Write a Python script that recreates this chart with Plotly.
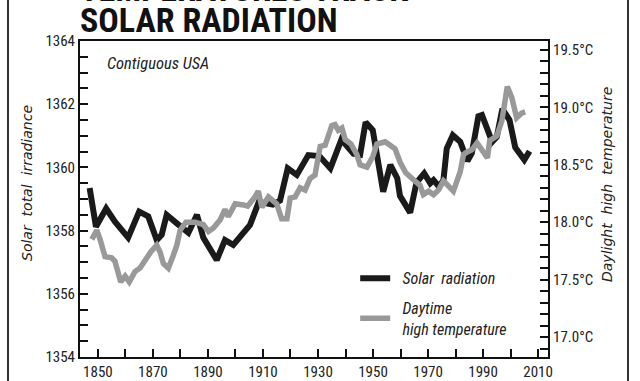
import plotly.graph_objects as go

# Solar total irradiance (left axis, W/m^2)
solar_years = [1847, 1849.3, 1853, 1856.2, 1861, 1865, 1868.3, 1871.4, 1873.2, 1875,
               1878.7, 1882.9, 1886, 1888.3, 1893.2, 1896.2, 1899.2, 1905.3, 1908.5, 1913.6,
               1916.2, 1919, 1922.3, 1926.5, 1930.5, 1934.5, 1938.5, 1942.9, 1945.3, 1947.3,
               1949.9, 1953.7, 1956.3, 1958.8, 1959.8, 1963.5, 1965.8, 1968.6, 1970.8, 1972,
               1974, 1975.6, 1976.8, 1979, 1981.7, 1984.3, 1985.9, 1988.3, 1989.6, 1993.3,
               1995, 1997, 1999.6, 2001.7, 2005, 2006.9]
solar_values = [1359.35, 1358.12, 1358.70, 1358.28, 1357.78, 1358.60, 1358.45, 1357.70, 1357.87, 1358.50,
                1358.23, 1357.93, 1358.50, 1357.78, 1357.07, 1357.70, 1357.55, 1358.18, 1358.91, 1358.82,
                1358.95, 1359.97, 1359.76, 1360.39, 1360.36, 1359.97, 1360.88, 1360.43, 1360.40, 1361.43,
                1361.18, 1359.23, 1360.08, 1359.66, 1359.10, 1358.57, 1359.52, 1359.81, 1359.50, 1359.60,
                1359.39, 1359.60, 1360.60, 1361.02, 1360.81, 1360.20, 1360.45, 1361.62, 1361.66, 1360.81,
                1360.97, 1361.85, 1361.50, 1360.63, 1360.24, 1360.51]

# Daytime high temperature (right axis, deg C)
temp_years = [1847.8, 1849.6, 1850.8, 1852.6, 1855.0, 1856.2, 1858.3, 1859.9, 1861.4, 1863.5,
              1865.3, 1867.7, 1869.2, 1871.4, 1872.6, 1873.8, 1875.6, 1877.4, 1878.7, 1879.9,
              1882.0, 1885.3, 1888.3, 1890.2, 1892.0, 1894.4, 1896.2, 1897.4, 1899.9, 1902.9,
              1904.4, 1907.1, 1908.3, 1909.6, 1912.0, 1915.0, 1916.8, 1918.7, 1919.9, 1921.7,
              1923.5, 1925.3, 1927.1, 1928.9, 1929.8, 1930.8, 1932.6, 1933.4, 1935.0, 1936.2,
              1937.4, 1938.7, 1939.9, 1942.0, 1944.1, 1945.3, 1947.8, 1949.9, 1951.4, 1954.4,
              1956.0, 1958.0, 1959.9, 1961.9, 1964.7, 1967.1, 1968.3, 1970.2, 1972.0, 1973.8,
              1975.6, 1976.8, 1979.2, 1981.7, 1982.9, 1984.1, 1985.9, 1987.8, 1989.6, 1991.6,
              1992.4, 1995.0, 1996.8, 1998.8, 2000.4, 2002.2, 2004.0, 2005.3]
temp_values = [17.85, 17.93, 17.85, 17.70, 17.69, 17.66, 17.48, 17.53, 17.48, 17.57,
               17.60, 17.70, 17.74, 17.80, 17.74, 17.64, 17.60, 17.71, 17.80, 17.93,
               18.00, 18.00, 17.98, 17.92, 17.95, 18.02, 18.11, 18.05, 18.16, 18.15,
               18.14, 18.22, 18.27, 18.13, 18.22, 18.16, 18.03, 18.03, 18.21, 18.22,
               18.30, 18.28, 18.38, 18.41, 18.54, 18.66, 18.67, 18.74, 18.84, 18.85,
               18.80, 18.82, 18.72, 18.68, 18.59, 18.50, 18.48, 18.57, 18.68, 18.70,
               18.67, 18.64, 18.52, 18.43, 18.37, 18.32, 18.24, 18.27, 18.24, 18.28,
               18.36, 18.33, 18.27, 18.44, 18.59, 18.61, 18.63, 18.69, 18.62, 18.56,
               18.71, 18.75, 18.88, 19.18, 19.09, 18.91, 18.95, 18.96]

NARROW = "Liberation Sans Narrow, Roboto Condensed, Arial Narrow, Liberation Sans, sans-serif"
NB = "\u00a0\u00a0"

fig = go.Figure()
fig.add_trace(go.Scatter(
    x=temp_years, y=temp_values, yaxis="y2", mode="lines",
    name=NB + "Daytime<br>" + NB + "high temperature", legendrank=2, legendgroup="t",
    line=dict(color="#999999", width=5.5, shape="linear"),
))
fig.add_trace(go.Scatter(
    x=solar_years, y=solar_values, mode="lines",
    name=NB + "Solar  radiation", legendrank=1, legendgroup="s",
    line=dict(color="#1a1a1a", width=6),
))

axis_common = dict(showgrid=False, zeroline=False, showline=True, linecolor="#111111",
                   linewidth=2, ticks="inside", ticklen=8, tickwidth=1.5, tickcolor="#111111",
                   automargin=False,
                   tickfont=dict(family=NARROW, size=15, color="#222222"))

fig.update_layout(
    width=640, height=381,
    margin=dict(l=80, r=92, t=41, b=24, autoexpand=False),
    paper_bgcolor="white", plot_bgcolor="white",
    xaxis=dict(range=[1843.5, 2013.6], tick0=1850, dtick=20, mirror=True,
               minor=dict(tick0=1850, dtick=10, ticks="inside", ticklen=8,
                          tickwidth=1.5, tickcolor="#111111"),
               **axis_common),
    yaxis=dict(range=[1354, 1364], tick0=1354, dtick=2,
               minor=dict(dtick=0.5, ticks="inside", ticklen=8, tickwidth=1.5,
                          tickcolor="#111111"),
               **axis_common),
    yaxis2=dict(range=[16.826, 19.578], overlaying="y", side="right",
                tick0=17, dtick=0.5, tickformat=".1f", ticksuffix="°C",
                minor=dict(dtick=0.1, ticks="inside", ticklen=8, tickwidth=1.5,
                           tickcolor="#111111"),
                **axis_common),
    showlegend=True,
    legend=dict(x=0.588, y=0.303, xanchor="left", yanchor="top",
                bgcolor="rgba(0,0,0,0)", tracegroupgap=6,
                font=dict(family=NARROW, size=16, color="#222222", style="italic")),
)

fig.add_annotation(text="Contiguous USA", xref="paper", yref="paper",
                   x=0.053, y=0.93, xanchor="left", yanchor="middle", showarrow=False,
                   font=dict(family=NARROW, size=16.5, color="#222222", style="italic"))
fig.add_annotation(text="Solar  total  irradiance", xref="paper", yref="paper",
                   x=(27 - 80) / 468, y=(357 - 183) / 316, textangle=-90,
                   xanchor="center", yanchor="middle", showarrow=False,
                   font=dict(family="DejaVu Sans, sans-serif", size=14, color="#222222",
                             style="italic"))
fig.add_annotation(text="Daylight  high  temperature", xref="paper", yref="paper",
                   x=(607 - 80) / 468, y=(357 - 185) / 316, textangle=-90,
                   xanchor="center", yanchor="middle", showarrow=False,
                   font=dict(family="DejaVu Sans, sans-serif", size=14, color="#222222",
                             style="italic"))
fig.add_annotation(text="SOLAR RADIATION", xref="paper", yref="paper",
                   x=(78 - 80) / 468, y=(357 - 20) / 316, xanchor="left", yanchor="middle",
                   showarrow=False,
                   font=dict(family=NARROW, size=34, color="#111111", weight="bold"))
fig.add_annotation(text="TEMPERATURES TRACK", xref="paper", yref="paper",
                   x=(78 - 80) / 468, y=(357 + 11) / 316, xanchor="left", yanchor="middle",
                   showarrow=False,
                   font=dict(family=NARROW, size=34, color="#111111", weight="bold"))

# outer page frame lines
for px in (8, 628):
    fig.add_shape(type="line", xref="paper", yref="paper",
                  x0=(px - 80) / 468, x1=(px - 80) / 468,
                  y0=(357 - 385) / 316, y1=(357 + 5) / 316,
                  line=dict(color="#333333", width=2))

fig.write_html("out.html", config={"displayModeBar": False},
               post_script="document.body.style.margin='0';document.body.style.overflow='hidden';")
